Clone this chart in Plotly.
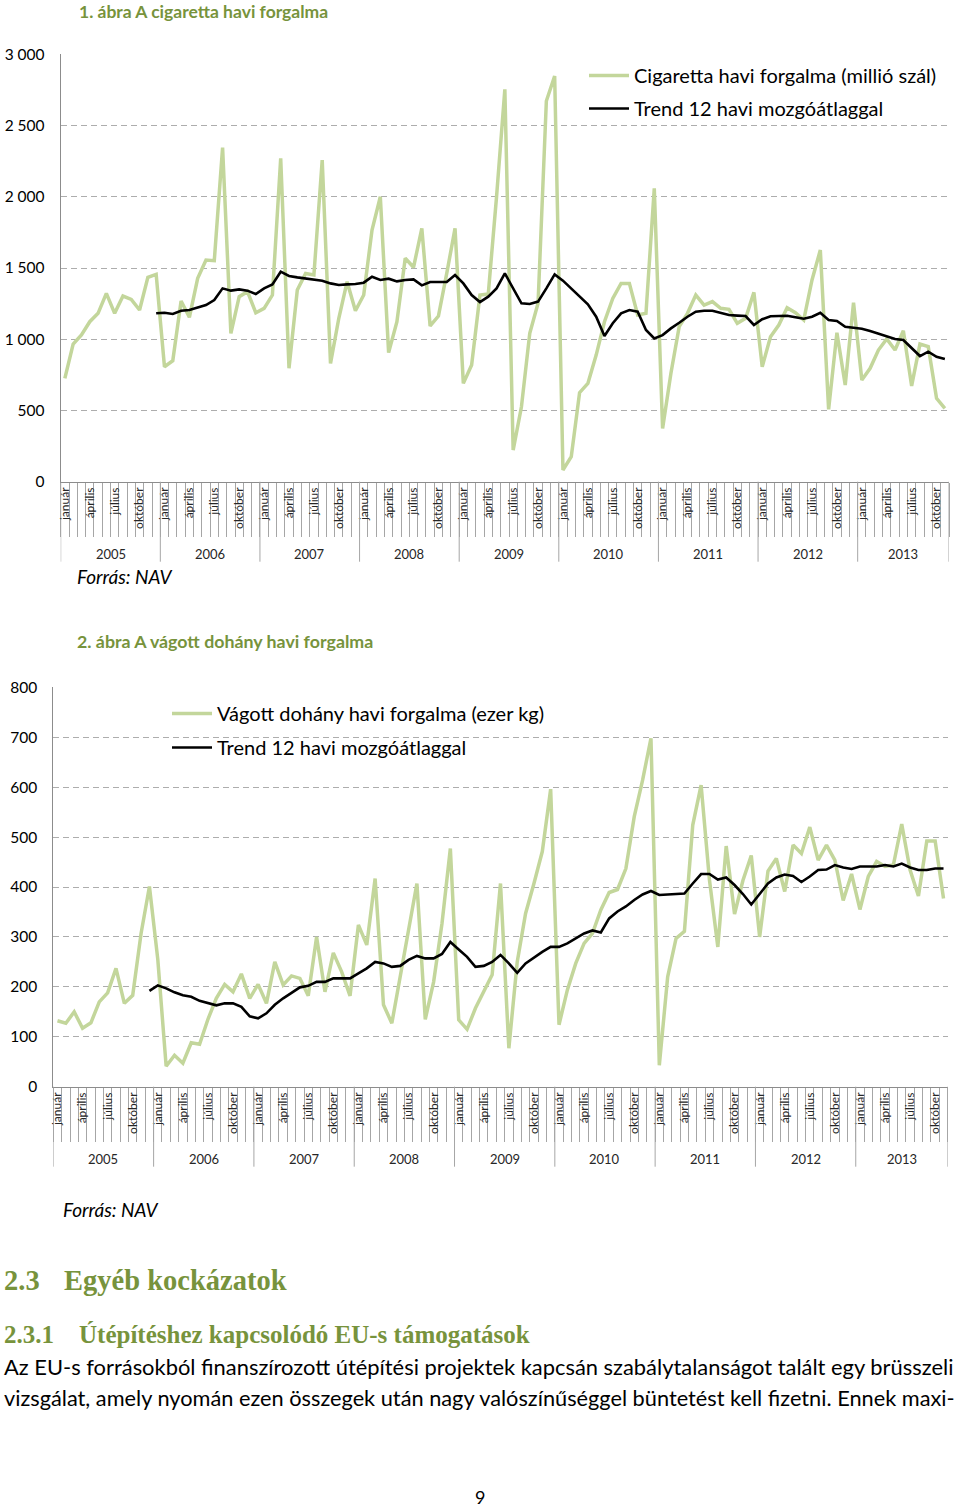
import plotly.graph_objects as go

# ---------------- data ----------------
years = [2005, 2006, 2007, 2008, 2009, 2010, 2011, 2012, 2013]
month_names = ["január", "február", "március", "április", "május", "június",
               "július", "augusztus", "szeptember", "október", "november", "december"]
labeled_months = ["január", "április", "július", "október"]

cig_monthly = [725, 966, 1030, 1123, 1182, 1322, 1182, 1303, 1280, 1205, 1434, 1455,
               807, 849, 1268, 1154, 1427, 1556, 1551, 2345, 1041, 1299, 1334, 1186,
               1217, 1310, 2270, 796, 1345, 1462, 1451, 2258, 831, 1147, 1404, 1200,
               1310, 1767, 2000, 906, 1123, 1568, 1505, 1778, 1093, 1163, 1462, 1778,
               690, 819, 1310, 1317, 2000, 2754, 222, 526, 1041, 1252, 2672, 2848,
               82, 175, 625, 690, 889, 1123, 1287, 1392, 1392, 1170, 1182, 2059,
               374, 760, 1088, 1182, 1310, 1240, 1264, 1217, 1210, 1112, 1147, 1329,
               807, 1018, 1100, 1221, 1186, 1135, 1416, 1626, 508, 1046, 679, 1257,
               714, 796, 924, 1002, 924, 1060, 672, 966, 948, 585, 515]
cig_trend = [None] * 11 + [
               1182,
               1186, 1177, 1200, 1205, 1221, 1240, 1275, 1357, 1341, 1350, 1341, 1317,
               1357, 1385, 1474, 1444, 1434, 1427, 1420, 1411, 1392, 1381, 1385, 1388,
               1397, 1439, 1416, 1425, 1406, 1416, 1420, 1378, 1402, 1402, 1402, 1451,
               1392, 1310, 1261, 1299, 1357, 1462, 1357, 1252, 1247, 1264, 1357, 1455,
               1411, 1357, 1299, 1245, 1158, 1023, 1112, 1182, 1205, 1193, 1065, 1006,
               1029, 1076, 1116, 1158, 1193, 1200, 1200, 1186, 1170, 1166, 1163, 1100,
               1140, 1161, 1163, 1165, 1154, 1144, 1158, 1186, 1135, 1128, 1088, 1083,
               1074, 1058, 1041, 1023, 1002, 995, 936, 882, 913, 877, 861]

doh_monthly = [132, 127, 150, 117, 128, 170, 188, 237, 167, 183, 307, 401,
               255, 41, 63, 47, 88, 85, 135, 177, 205, 190, 226, 177,
               205, 167, 250, 204, 222, 217, 182, 300, 190, 268, 230, 182,
               324, 284, 417, 164, 127, 220, 315, 407, 135, 210, 327, 477,
               134, 115, 157, 190, 224, 407, 77, 250, 347, 407, 471, 596,
               124, 194, 247, 287, 307, 354, 389, 395, 437, 541, 614, 698,
               43, 220, 297, 311, 524, 604, 414, 280, 482, 346, 413, 463,
               300, 432, 457, 391, 484, 467, 520, 454, 484, 454, 373, 426,
               355, 421, 451, 441, 444, 526, 434, 382, 492, 492, 377]
doh_trend = [None] * 11 + [
               192,
               203, 197, 189, 183, 180, 172, 167, 163, 167, 167, 160, 141,
               137, 147, 164, 177, 188, 199, 202, 210, 210, 217, 217, 217,
               227, 237, 250, 247, 240, 242, 254, 262, 257, 257, 266, 290,
               275, 260, 240, 242, 250, 264, 247, 228, 247, 259, 270, 280,
               280, 287, 297, 307, 313, 309, 337, 351, 361, 374, 385, 392,
               384, 385, 387, 387, 407, 426, 426, 415, 419, 404, 386, 365,
               386, 407, 419, 425, 422, 410, 421, 434, 435, 444, 439, 436,
               441, 441, 441, 444, 441, 447, 439, 434, 434, 437, 437]

cig_yticks = [0, 500, 1000, 1500, 2000, 2500, 3000]
cig_yticktext = ["0", "500", "1 000", "1 500", "2 000", "2 500", "3 000"]
doh_yticks = [0, 100, 200, 300, 400, 500, 600, 700, 800]
doh_yticktext = ["0", "100", "200", "300", "400", "500", "600", "700", "800"]

cig_names = ["Cigaretta havi forgalma (millió szál)", "Trend 12 havi mozgóátlaggal"]
doh_names = ["Vágott dohány havi forgalma (ezer kg)", "Trend 12 havi mozgóátlaggal"]

# ---------------- styling / geometry ----------------
W, H = 960, 1508
FONT = "Lato"
GREEN_LINE = "#C3D69B"
TITLE_GREEN = "#77933C"
GRID = "#ADADAD"
AXIS = "#8C8C8C"
TICK = "#A6A6A6"


def xdom(l, r):
    return [l / W, r / W]


def ydom(top, bottom):
    return [1 - bottom / H, 1 - top / H]


def py(p):
    return 1 - p / H


n = len(cig_monthly)
idx = list(range(n))
label_pos = [i for i in idx if month_names[i % 12] in labeled_months]
label_txt = [month_names[i % 12] for i in label_pos]
month_bounds = [i - 0.5 for i in range(n + 1)]
year_bounds = [min(12 * k, n) - 0.5 for k in range(len(years) + 1)]
year_centers = [(year_bounds[k] + year_bounds[k + 1]) / 2 for k in range(len(years))]

fig = go.Figure()
fig.add_trace(go.Scatter(x=idx, y=cig_monthly, name=cig_names[0], mode="lines",
                         line=dict(color=GREEN_LINE, width=3.5), xaxis="x", yaxis="y",
                         legend="legend", legendgroup="a"))
fig.add_trace(go.Scatter(x=idx, y=cig_trend, name=cig_names[1], mode="lines",
                         line=dict(color="black", width=2.6), xaxis="x", yaxis="y",
                         legend="legend", legendgroup="b"))
fig.add_trace(go.Scatter(x=idx, y=doh_monthly, name=doh_names[0], mode="lines",
                         line=dict(color=GREEN_LINE, width=3.5), xaxis="x2", yaxis="y2",
                         legend="legend2", legendgroup="c"))
fig.add_trace(go.Scatter(x=idx, y=doh_trend, name=doh_names[1], mode="lines",
                         line=dict(color="black", width=2.6), xaxis="x2", yaxis="y2",
                         legend="legend2", legendgroup="d"))


def xaxis_cfg(domain, anchor):
    return dict(domain=domain, anchor=anchor, range=[-0.5, n - 0.5], automargin=False,
                showgrid=False, zeroline=False, showline=True, linecolor=AXIS, linewidth=1,
                tickmode="array", tickvals=label_pos, ticktext=label_txt, tickangle=-90,
                ticks="", tickfont=dict(family=FONT, size=12, color="#262626"),
                minor=dict(tickmode="array", tickvals=month_bounds, ticks="outside",
                           ticklen=54, tickcolor=TICK, tickwidth=1, showgrid=False),
                fixedrange=True)


def yaxis_cfg(domain, anchor, rng, tv, tt, standoff):
    return dict(domain=domain, anchor=anchor, range=rng, tickmode="array", automargin=False,
                tickvals=tv, ticktext=tt, showgrid=True, gridcolor=GRID, gridwidth=1,
                griddash="6px,4px", zeroline=False, showline=True, linecolor=AXIS,
                linewidth=1, ticks="", ticklabelstandoff=standoff,
                tickfont=dict(family=FONT, size=15.5, color="black"), fixedrange=True)


X1 = (60.7, 949.0)
Y1 = (54.3, 481.7)
X2 = (53.3, 947.7)
Y2 = (687.3, 1086.7)

shapes = []
annotations = []
for (xr, axis_y, xname) in [(X1, Y1[1], "x"), (X2, Y2[1], "x2")]:
    for b in year_bounds:
        shapes.append(dict(type="line", xref=xname, yref="paper", x0=b, x1=b,
                           y0=py(axis_y), y1=py(axis_y + 80), line=dict(color=TICK, width=1)))
    for k, yv in enumerate(years):
        annotations.append(dict(text=str(yv), xref=xname, yref="paper", x=year_centers[k],
                                y=py(axis_y + 72), xanchor="center", yanchor="middle",
                                showarrow=False, font=dict(family=FONT, size=13, color="#262626")))


def txt(text, x, y, size, color="black", family=FONT, xanchor="left", yanchor="middle"):
    annotations.append(dict(text=text, xref="paper", yref="paper", x=x / W, y=py(y),
                            xanchor=xanchor, yanchor=yanchor, showarrow=False,
                            borderpad=0, font=dict(family=family, size=size, color=color)))


txt("<b>1. ábra A cigaretta havi forgalma</b>", 78, 0, 17.5, TITLE_GREEN, yanchor="top")
txt("<i>Forrás: NAV</i>", 76, 576, 19)
txt("<b>2. ábra A vágott dohány havi forgalma</b>", 76, 641, 17.8, TITLE_GREEN)
txt("<i>Forrás: NAV</i>", 62, 1209, 19)

SERIF = "Liberation Serif"
txt("<b>2.3</b>", 3, 1280, 28.5, TITLE_GREEN, SERIF)
txt("<b>Egyéb kockázatok</b>", 63, 1280, 28.5, TITLE_GREEN, SERIF)
txt("<b>2.3.1</b>", 3, 1334, 25, TITLE_GREEN, SERIF)
txt("<b>Útépítéshez kapcsolódó EU-s támogatások</b>", 78, 1334, 25, TITLE_GREEN, SERIF)
txt("Az EU-s forrásokból finanszírozott útépítési projektek kapcsán szabálytalanságot talált egy brüsszeli",
    3, 1366, 21.9)
txt("vizsgálat, amely nyomán ezen összegek után nagy valószínűséggel büntetést kell fizetni. Ennek maxi-",
    3, 1398, 21.75)
txt("9", 480, 1497, 18, xanchor="center")

fig.update_layout(
    template="none",
    width=W, height=H, margin=dict(l=0, r=0, t=0, b=0, pad=0, autoexpand=False),
    paper_bgcolor="white", plot_bgcolor="white",
    xaxis=xaxis_cfg(xdom(*X1), "y"),
    yaxis=yaxis_cfg(ydom(*Y1), "x", [0, 3000], cig_yticks, cig_yticktext, 12),
    xaxis2=xaxis_cfg(xdom(*X2), "y2"),
    yaxis2=yaxis_cfg(ydom(*Y2), "x2", [0, 800], doh_yticks, doh_yticktext, 12),
    legend=dict(x=584 / W, y=py(56), xanchor="left", yanchor="top", bgcolor="rgba(0,0,0,0)",
                font=dict(family=FONT, size=20, color="black"), itemwidth=40,
                tracegroupgap=4, traceorder="grouped"),
    legend2=dict(x=167 / W, y=py(694), xanchor="left", yanchor="top", bgcolor="rgba(0,0,0,0)",
                 font=dict(family=FONT, size=20, color="black"), itemwidth=40,
                 tracegroupgap=5, traceorder="grouped"),
    shapes=shapes, annotations=annotations, showlegend=True,
)

post = (
    "document.documentElement.style.margin='0';"
    "document.documentElement.style.overflow='hidden';"
    "document.body.style.margin='0';"
    "document.body.style.padding='0';"
    "document.body.style.overflow='hidden';"
    "var g=document.getElementsByClassName('plotly-graph-div')[0];"
    "g.style.position='absolute';g.style.left='0px';g.style.top='0px';"
)
fig.write_html("out.html", config={"displayModeBar": False}, post_script=post)
